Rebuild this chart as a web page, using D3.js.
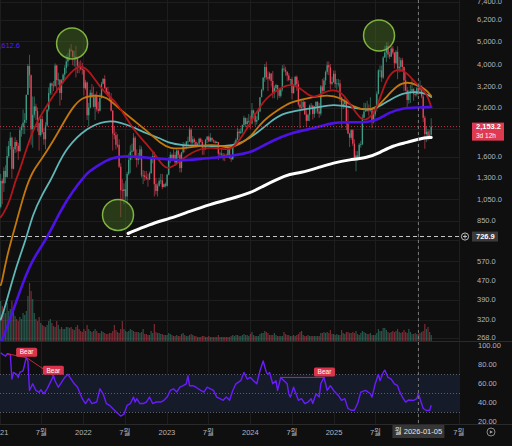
<!DOCTYPE html>
<html lang="ko">
<head>
<meta charset="UTF-8">
<title>ETH 1W</title>
<script src="https://d3js.org/d3.v7.min.js"></script>
<style>
body { margin: 0; background: #0f0f0f; }
svg { display: block; font-family: "Liberation Sans", Arial, sans-serif; }
.axis-label { fill: #b2b5be; font-size: 7.5px; }
</style>
</head>
<body>
<svg width="512" height="446"></svg>
<script>

// weekly candles, first week starts 2021-01-04, open = previous close
var firstWeek = "2021-01-04";
var firstOpen = 975;

var closes = [
  // 2021
  1260,1230,1390,1310,1610,1780,1930,1420,1720,1850,1780,1690,2080,2140,2240,2300,2950,3920,3580,2100,2420,2630,2510,2230,1980,2320,
  2040,1900,2180,2550,3000,3300,3230,3220,3940,3410,3430,3000,3400,3600,3850,4100,4290,4610,4570,4300,4300,4200,3930,3920,3800,3770,
  // 2022
  3150,3330,2410,2600,3010,2880,2620,2920,2560,2520,2860,3290,3450,3150,3040,2920,2840,2520,2010,1980,1800,1800,1450,1150,1140,1160,
  1080,1350,1550,1680,1700,1930,1580,1550,1570,1720,1330,1330,1310,1290,1280,1360,1590,1610,1220,1140,1200,1260,1265,1185,1220,1200,
  // 2023
  1340,1550,1630,1570,1630,1510,1700,1630,1430,1670,1800,1780,1860,1860,2090,1840,1900,1850,1800,1820,1910,1850,1750,1720,1890,1950,
  1860,1930,1880,1860,1830,1850,1650,1650,1630,1630,1620,1590,1730,1580,1560,1780,1780,1890,2050,2020,2050,2190,2350,2210,2270,2280,
  // 2024
  2220,2530,2460,2260,2300,2500,2880,3100,3490,3880,3510,3460,3640,3380,3010,3150,3250,3110,2920,3110,3820,3780,3710,3570,3420,3440,
  3000,3250,3520,3280,2680,2600,2610,2750,2430,2280,2420,2650,2650,2440,2630,2750,2500,2450,3200,3070,3400,3700,3950,3870,3290,3350,3630,
  // 2025
  3280,3300,3300,2880,2630,2690,2770,2220,2010,1930,2080,1820,1580,1620,1590,1800,1810,2350,2500,2530,2530,2510,2530,2250,2430,2570,
  2980,3750,3750,3500,4260,4480,4780,4390,4300,4660,4480,4030,4510,3830,3890,4150,3880,3400,3080,2800,3000,3050,3120,2970,2960,3150,
  // 2026
  3100,3200,2900,2350,2000,2050,1950,1990,2153.2
];

var highs = [
  1350,1290,1440,1470,1770,1870,2040,1950,1760,1940,1890,1830,2150,2200,2550,2460,2950,4000,4380,3600,2900,2900,2700,2600,2250,2400,
  2400,2130,2250,2550,3170,3330,3330,3380,4020,3970,3670,3120,3440,3650,3950,4370,4460,4670,4870,4370,4550,4780,4300,4100,4150,4050,
  3850,3420,3370,2720,3100,3280,3200,2980,3050,2750,2990,3350,3480,3580,3180,3190,3040,3000,2540,2150,2050,2000,1900,1500,1280,1230,
  1260,1380,1650,1790,1820,2020,1960,1720,1660,1790,1770,1400,1390,1390,1350,1380,1600,1670,1680,1300,1230,1300,1350,1350,1230,1240,
  1350,1590,1680,1650,1720,1680,1740,1710,1650,1680,1850,1830,1870,1950,2140,2120,1960,1930,1880,1840,1930,1930,1890,1760,1910,1960,
  1970,2020,1900,1900,1880,1870,1850,1680,1730,1660,1650,1650,1750,1740,1600,1800,1860,1920,2130,2100,2120,2200,2400,2300,2350,2440,
  2400,2720,2550,2460,2390,2530,2880,3130,3520,4000,4090,3720,3700,3650,3730,3230,3290,3180,3130,3120,3950,3980,3890,3700,3650,3450,
  3520,3280,3560,3570,3400,2800,2790,2820,2770,2530,2450,2680,2720,2670,2640,2770,2770,2720,3250,3450,3500,3750,4100,4100,4000,3530,3750,
  3750,3450,3450,3420,2900,2800,2850,2800,2550,2030,2100,2100,1900,1690,1690,1830,1870,2430,2730,2720,2780,2680,2880,2550,2520,2630,
  3050,3800,3940,3940,4330,4790,4950,4960,4500,4770,4770,4470,4590,4760,4290,4250,4250,3900,3650,3180,3100,3250,3440,3150,3070,3200,
  3300,3400,3250,2950,2400,2150,2100,2080,2340
];

var lows = [
  960,1000,1130,1230,1300,1580,1720,1290,1410,1660,1670,1550,1680,1950,2000,2000,2230,2950,3150,1800,1750,2350,2300,2050,1700,1950,
  2000,1800,1720,2150,2500,2940,2950,3060,3200,3000,3250,2650,2800,3300,3450,3650,3900,4150,4500,3950,3900,3500,3650,3650,3750,3600,
  2930,3100,2300,2160,2580,2850,2600,2300,2500,2450,2500,2840,3270,3120,2950,2900,2770,2500,1700,1900,1720,1750,1430,880,1030,1000,
  1040,1000,1330,1360,1550,1680,1550,1440,1480,1550,1300,1220,1260,1270,1190,1270,1350,1500,1080,1100,1080,1190,1220,1160,1180,1180,
  1190,1330,1500,1530,1550,1460,1500,1580,1370,1370,1650,1670,1720,1790,1850,1800,1790,1780,1770,1770,1790,1840,1630,1630,1720,1830,
  1850,1860,1850,1830,1820,1830,1550,1600,1610,1540,1530,1580,1580,1570,1520,1550,1770,1780,1880,1930,2000,2010,2150,2140,2150,2230,
  2100,2200,2400,2170,2200,2290,2480,2880,3050,3350,3420,3060,3400,3200,2850,2850,3070,2810,2860,2870,3050,3690,3560,3370,3370,3240,
  2820,2980,3190,3070,2630,2120,2560,2550,2420,2150,2280,2270,2570,2310,2350,2460,2440,2350,2400,3000,3020,3250,3600,3580,3110,3240,3320,
  3160,3100,3200,2750,2120,2560,2600,2080,2000,1760,1890,1780,1540,1385,1540,1570,1750,1790,2400,2500,2500,2400,2500,2120,2220,2380,
  2500,2960,3500,3350,3450,4270,4070,4260,4200,4280,4400,3820,4000,3440,3680,3700,3700,3060,3050,2620,2700,2720,3080,2780,2900,2900,
  2950,3050,2850,2250,1730,1850,1880,1900,1940
];

// volume, relative units
var volumes = [
  40,35,30,28,38,30,32,40,34,25,22,20,24,22,28,26,30,45,58,50,42,28,22,20,24,18,16,15,14,16,20,22,18,15,14,20,16,12,14,12,12,14,14,13,14,12,11,14,16,12,10,9,
  12,10,16,12,10,9,10,12,10,8,8,10,9,8,7,7,8,8,10,16,11,9,8,12,20,12,10,9,10,12,11,10,9,9,9,8,9,12,7,7,6,6,10,8,17,9,8,8,7,7,6,6,
  6,8,7,6,5,5,6,5,5,7,8,6,5,5,6,7,6,5,5,4,4,4,5,5,4,4,5,4,4,4,4,4,6,4,4,4,4,4,4,4,5,6,5,6,6,5,5,6,7,6,6,5,
  7,9,6,5,5,5,7,8,8,10,9,8,6,6,6,8,6,5,5,5,5,9,7,6,6,5,5,6,5,6,7,9,10,6,5,5,6,5,5,5,5,5,5,5,8,8,9,8,9,8,11,7,7,
  6,7,6,6,11,8,7,9,9,8,8,9,8,10,7,6,8,10,9,8,7,7,8,6,6,6,8,12,10,10,13,13,11,9,8,9,10,9,10,12,9,8,9,11,9,8,12,9,7,7,8,7,
  7,8,9,10,17,12,14,9,6
];

// moving averages: [week index, price]
var maRed = [[0,880],[1.4,905],[5.8,1030],[9,1259],[12,1391],[20,2138],[31,2800],[41,3525],[50,4055],[56,3669],[62,3190],[68,2887],
  [73,2714],[83,2075],[91,1822],[98,1584],[104,1363],[114,1584],[125,1751],[135,1751],[143,1699],[148,1822],[156,2225],[164,2800],
  [173,3098],[181,3322],[189,3098],[195,2800],[204,3098],[212,3098],[218,2714],[225,2293],[229,2293],[235,2534],[241,3525],[248,3857],
  [254,3669],[260,3256],[266,3040],[269,2611]];
var maOrange = [[0,450],[0.8,463],[4,607],[10,844],[15,1139],[20,1391],[25,1537],[33,1878],[39,2225],[45,2611],[51,2887],[60,2947],
  [66,2887],[73,2611],[83,2293],[91,2075],[100,1822],[106,1733],[114,1733],[125,1786],[135,1803],[143,1733],[150,1822],[156,1935],
  [164,2293],[173,2534],[181,2745],[187,2800],[195,2887],[204,2947],[212,2887],[220,2611],[229,2534],[235,2586],[241,2887],
  [248,3256],[254,3355],[260,3256],[266,3098],[269,2915]];
var maCyan = [[0,320],[1,333],[4,390],[10,549],[16,712],[20,905],[26,1105],[31,1259],[34,1391],[41,1751],[54,2138],[66,2293],
  [75,2248],[83,2138],[91,2014],[100,1916],[104,1840],[114,1786],[125,1786],[135,1768],[145,1786],[151,1840],[160,2014],[168,2248],
  [176,2459],[187,2540],[198,2600],[208,2690],[218,2611],[229,2534],[235,2586],[243,2800],[251,3010],[260,3040],[266,2979],[269,2887]];
var maPurple = [[0,255],[1,262],[8,353],[14,463],[20,583],[29,712],[37,932],[45,1139],[55,1391],[58,1419],[68,1584],[79,1616],
  [91,1584],[100,1568],[114,1537],[125,1568],[135,1584],[145,1616],[156,1665],[162,1751],[170,1878],[181,2014],[189,2075],[198,2138],
  [208,2248],[218,2248],[229,2248],[235,2293],[243,2484],[251,2586],[260,2600],[269,2612.6]];
var maWhite = [[79.6,749],[93,820],[106,870],[118,932],[131,1000],[143,1051],[156,1116],[164,1197],[173,1284],[181,1350],
  [187,1363],[198,1433],[208,1507],[218,1553],[229,1584],[237,1665],[245,1786],[254,1840],[262,1916],[269,1935]];

// RSI: [week index, value]
var rsi = [[0,92.5],[3,89],[4,91.6],[6,91],[7,65],[8,72],[10,70],[11,66.7],[12,72],[14,73.7],[16,87.5],[17,84],[18,53],[20,60],
  [22,53],[24,51],[25,53.7],[27,49.5],[29,54.7],[31,61.5],[33,68.5],[34,63],[36,56.4],[38,61.5],[40,66.7],[42,70],[44,65],[46,60],
  [48,56.4],[51,44.3],[53,39.2],[55,44.3],[57,39.2],[60,40.8],[62,54.7],[64,49.5],[66,39.2],[68,37.4],[70,34],[72,30.5],[75,26],
  [77,28],[79,37.4],[81,39.2],[83,46],[84,40.8],[85,44.3],[87,39.2],[89,39.2],[91,40.8],[93,46],[95,39.2],[97,40.8],[100,40.8],
  [102,42.6],[104,46],[106,53],[108,54.7],[110,51.3],[112,56.4],[114,58],[116,60],[117,68.5],[118,58],[120,58],[122,56.4],[125,53],
  [127,51.3],[129,56.4],[131,54.7],[133,53],[135,46],[137,44.3],[139,42.6],[141,46],[143,42.6],[145,53],[147,60],[150,63.3],[152,72],
  [154,65],[156,66.7],[158,63.3],[160,60],[162,73.7],[164,84],[166,72],[167,70],[168,72],[170,60],[172,63.3],[173,53],[175,66.7],
  [177,63.3],[179,60],[180,49.5],[181,46],[183,56.4],[186,42.6],[188,44.3],[190,39.2],[192,40.8],[194,44.3],[195,39.2],[197,49.5],
  [199,46],[200,60],[202,66.7],[204,53],[206,58],[208,53],[211,47.7],[213,42.6],[215,44.3],[217,34],[219,32.2],[221,32.2],[223,39.2],
  [225,51.3],[228,53],[231,49.5],[232,46],[234,60],[236,70],[237,63.3],[239,72],[240,74.4],[242,66.7],[244,65],[246,60],[248,58],
  [249,53],[251,46],[253,40.8],[255,43],[258,42.6],[260,44.3],[261,49.5],[262,44.3],[264,34],[266,31.9],[268,31.9],[269,37.4]];

// bearish divergence lines on RSI: [[week, rsi], [week, rsi]]
var bearLines = [[[4,91.6],[16.2,87.5]], [[16.2,87.5],[32.9,68.5]], [[175.2,66.7],[202.3,66.7]]];

// drawn circles on price pane: [week, price]
var circleMarks = [[44.6,4900], [73.3,900], [236.4,5300]];

// grid prices; 2,100 and 700 sit under the badges so they get no label
var priceTicks = [7400,6200,5000,4000,3200,2600,2100,1600,1300,1050,850,700,570,470,390,320,268];
var hiddenPriceLabels = [2100, 700];
var rsiTicks = [100,80,60,40,20];
var lastPrice = 2153.2;
var markedPrice = 726.9;
var crosshairDay = "2026-01-05";


var svg = d3.select("svg"),
    plotRight = 460,
    pricePaneBottom = 341,
    rsiTop = 342,
    rsiBottom = 424;

var parseDay = d3.timeParse("%Y-%m-%d");
var start = parseDay(firstWeek);
function weekDate(w) { return new Date(start.getTime() + w * 7 * 864e5); }

var x = d3.scaleTime()
    .domain([parseDay("2021-01-01"), parseDay("2026-01-01")])
    .range([0, 417.5]);
var y = d3.scaleLog().domain([258.9, 7526]).range([pricePaneBottom, 0]);
var yVol = d3.scaleLinear().domain([0, 60]).range([pricePaneBottom, pricePaneBottom - 60]);
var yRsi = d3.scaleLinear().domain([20, 80]).range([421.8, 364.8]);

var candles = closes.map(function(c, i) {
  var o = i ? closes[i - 1] : firstOpen;
  return {date: weekDate(i), o: o, c: c,
          h: Math.max(highs[i], o, c), l: Math.min(lows[i], o, c), v: volumes[i] || 0};
});

var green = "#3f9c84", red = "#e8455a";

svg.append("rect").attr("width", 512).attr("height", 446).attr("fill", "#0f0f0f");

var defs = svg.append("defs");
defs.append("clipPath").attr("id", "clipPrice")
  .append("rect").attr("x", 0).attr("y", 0).attr("width", plotRight).attr("height", pricePaneBottom);
defs.append("clipPath").attr("id", "clipRsi")
  .append("rect").attr("x", 0).attr("y", rsiTop).attr("width", plotRight).attr("height", rsiBottom - rsiTop);

// grid
var xTicks = d3.timeMonth.every(6).range(parseDay("2021-01-01"), parseDay("2026-08-01"));
var grid = svg.append("g").attr("stroke", "#1e1e1e").attr("stroke-width", 1);
grid.selectAll(".gx").data(xTicks).enter().append("line")
    .attr("x1", function(d) { return Math.round(x(d)) + 0.5; })
    .attr("x2", function(d) { return Math.round(x(d)) + 0.5; })
    .attr("y1", 0).attr("y2", rsiBottom);
grid.selectAll(".gy").data(priceTicks).enter().append("line")
    .attr("x1", 0).attr("x2", plotRight)
    .attr("y1", function(d) { return Math.round(y(d)) + 0.5; })
    .attr("y2", function(d) { return Math.round(y(d)) + 0.5; });

// pane separators
svg.append("line").attr("x1", 0).attr("x2", 512).attr("y1", pricePaneBottom + 0.5).attr("y2", pricePaneBottom + 0.5)
    .attr("stroke", "#2a2a2a");
svg.append("line").attr("x1", 0).attr("x2", 512).attr("y1", rsiBottom + 0.5).attr("y2", rsiBottom + 0.5)
    .attr("stroke", "#2a2a2a");

// price pane
var price = svg.append("g").attr("clip-path", "url(#clipPrice)");

price.selectAll(".vol").data(candles).enter().append("rect")
    .attr("x", function(d) { return x(d.date) - 0.6; })
    .attr("width", 1.2)
    .attr("y", function(d) { return yVol(d.v); })
    .attr("height", function(d) { return pricePaneBottom - yVol(d.v); })
    .attr("fill", function(d) { return d.c >= d.o ? green : red; })
    .attr("opacity", 0.5);

price.selectAll(".wick").data(candles).enter().append("line")
    .attr("x1", function(d) { return x(d.date); })
    .attr("x2", function(d) { return x(d.date); })
    .attr("y1", function(d) { return y(d.h); })
    .attr("y2", function(d) { return y(d.l); })
    .attr("stroke", function(d) { return d.c >= d.o ? green : red; })
    .attr("stroke-width", 0.6);

price.selectAll(".body").data(candles).enter().append("rect")
    .attr("x", function(d) { return x(d.date) - 0.65; })
    .attr("width", 1.3)
    .attr("y", function(d) { return y(Math.max(d.o, d.c)); })
    .attr("height", function(d) { return Math.max(0.8, Math.abs(y(d.o) - y(d.c))); })
    .attr("fill", function(d) { return d.c >= d.o ? green : red; });

var maLine = d3.line()
    .x(function(d) { return x(weekDate(d[0])); })
    .y(function(d) { return y(d[1]); })
    .curve(d3.curveBasis);

[[maCyan, "#5fb7b7", 1.8], [maOrange, "#c4780c", 1.8], [maRed, "#b3171c", 1.8],
 [maPurple, "#4c12e6", 2.6], [maWhite, "#ffffff", 3]].forEach(function(m) {
  price.append("path").datum(m[0])
      .attr("d", maLine)
      .attr("fill", "none")
      .attr("stroke", m[1])
      .attr("stroke-width", m[2])
      .attr("stroke-linecap", "round");
});

price.selectAll(".mark").data(circleMarks).enter().append("circle")
    .attr("cx", function(d) { return x(weekDate(d[0])); })
    .attr("cy", function(d) { return y(d[1]); })
    .attr("r", 15.5)
    .attr("fill", "rgba(70,110,35,0.45)")
    .attr("stroke", "#7fb33f")
    .attr("stroke-width", 1.5);

// last price line
price.append("line")
    .attr("x1", 0).attr("x2", plotRight)
    .attr("y1", y(lastPrice)).attr("y2", y(lastPrice))
    .attr("stroke", red).attr("stroke-width", 0.8).attr("stroke-dasharray", "1,2");

// marked horizontal line
svg.append("line")
    .attr("x1", 0).attr("x2", plotRight)
    .attr("y1", y(markedPrice)).attr("y2", y(markedPrice))
    .attr("stroke", "#c8c8c8").attr("stroke-width", 1).attr("stroke-dasharray", "4,3");

svg.append("text")
    .attr("x", 20).attr("y", 48)
    .attr("text-anchor", "end")
    .attr("fill", "#5a1cff")
    .attr("font-size", "7.5px")
    .text("2,612.6");

// RSI pane
var rsiG = svg.append("g").attr("clip-path", "url(#clipRsi)");
rsiG.append("rect")
    .attr("x", 0).attr("width", plotRight)
    .attr("y", yRsi(70)).attr("height", yRsi(30) - yRsi(70))
    .attr("fill", "#161b29");
rsiG.selectAll(".lvl").data([70, 50, 30]).enter().append("line")
    .attr("x1", 0).attr("x2", plotRight)
    .attr("y1", function(d) { return Math.round(yRsi(d)) + 0.5; })
    .attr("y2", function(d) { return Math.round(yRsi(d)) + 0.5; })
    .attr("stroke", "#5a5e66").attr("stroke-dasharray", "1,2");

rsiG.append("path").datum(rsi)
    .attr("d", d3.line()
      .x(function(d) { return x(weekDate(d[0])); })
      .y(function(d) { return yRsi(d[1]); }))
    .attr("fill", "none")
    .attr("stroke", "#6a1cff")
    .attr("stroke-width", 1.4)
    .attr("stroke-linejoin", "round");

rsiG.selectAll(".bear").data(bearLines).enter().append("line")
    .attr("x1", function(d) { return x(weekDate(d[0][0])); })
    .attr("y1", function(d) { return yRsi(d[0][1]); })
    .attr("x2", function(d) { return x(weekDate(d[1][0])); })
    .attr("y2", function(d) { return yRsi(d[1][1]); })
    .attr("stroke", "#c9243d").attr("stroke-width", 1);

var bearTag = rsiG.selectAll(".bearTag").data(bearLines).enter().append("g")
    .attr("transform", function(d) {
      return "translate(" + x(weekDate(d[1][0])) + "," + (yRsi(d[1][1]) - 5.5) + ")";
    });
bearTag.append("rect")
    .attr("x", -10.5).attr("y", -4.5).attr("width", 21).attr("height", 9).attr("rx", 1.5)
    .attr("fill", "#d9344c");
bearTag.append("text")
    .attr("text-anchor", "middle").attr("dy", "0.35em")
    .attr("fill", "#fff").attr("font-size", "6.5px")
    .text("Bear");

// crosshair
var cx = x(parseDay(crosshairDay));
svg.append("line")
    .attr("x1", cx).attr("x2", cx).attr("y1", 0).attr("y2", rsiBottom)
    .attr("stroke", "#7a7a7a").attr("stroke-width", 1).attr("stroke-dasharray", "3,3");

// price axis labels
svg.selectAll(".plabel")
    .data(priceTicks.filter(function(d) { return hiddenPriceLabels.indexOf(d) < 0; }))
    .enter().append("text")
    .attr("class", "axis-label")
    .attr("x", 477).attr("y", function(d) { return y(d); })
    .attr("dy", "0.35em")
    .text(d3.format(",.1f"));

svg.selectAll(".rlabel").data(rsiTicks).enter().append("text")
    .attr("class", "axis-label")
    .attr("x", 478).attr("y", function(d) { return yRsi(d); })
    .attr("dy", "0.35em")
    .text(d3.format(".2f"));

// last price badge
var badge = svg.append("g").attr("transform", "translate(472," + y(lastPrice) + ")");
badge.append("rect").attr("x", 0).attr("y", -4).attr("width", 32).attr("height", 18).attr("fill", "#e03a52");
badge.append("text").attr("x", 4).attr("y", 0).attr("dy", "0.35em")
    .attr("fill", "#fff").attr("font-size", "7.5px").attr("font-weight", "bold")
    .text(d3.format(",.1f")(lastPrice));
badge.append("text").attr("x", 4).attr("y", 9).attr("dy", "0.35em")
    .attr("fill", "#fff").attr("font-size", "6.5px")
    .text("3d 12h");

// marked price badge
var mBadge = svg.append("g").attr("transform", "translate(0," + y(markedPrice) + ")");
mBadge.append("circle").attr("cx", 465).attr("cy", 0).attr("r", 3.6)
    .attr("fill", "#0f0f0f").attr("stroke", "#d0d0d0").attr("stroke-width", 0.9);
mBadge.append("path").attr("d", "M463,0H467M465,-2V2").attr("stroke", "#d0d0d0").attr("stroke-width", 0.9);
mBadge.append("rect").attr("x", 472).attr("y", -5).attr("width", 26).attr("height", 10).attr("fill", "#3a3a3a");
mBadge.append("text").attr("x", 476).attr("y", 0).attr("dy", "0.35em")
    .attr("fill", "#fff").attr("font-size", "7.5px").attr("font-weight", "bold")
    .text(d3.format(".1f")(markedPrice));

// time axis; the crosshair date box takes the place of the 2026 label
svg.selectAll(".tlabel")
    .data(xTicks.filter(function(d) { return Math.abs(x(d) - x(parseDay(crosshairDay))) > 20; }))
    .enter().append("text")
    .attr("class", "axis-label")
    .attr("x", function(d) { return x(d); })
    .attr("y", 432).attr("dy", "0.35em")
    .attr("text-anchor", "middle")
    .style("font-family", "'Liberation Sans', 'Noto Sans CJK KR', sans-serif")
    .text(function(d) { return d.getMonth() === 0 ? d.getFullYear() : "7월"; });

svg.append("rect").attr("x", cx - 26).attr("y", 425).attr("width", 52).attr("height", 13).attr("fill", "#363636");
svg.append("text")
    .attr("x", cx).attr("y", 431.5).attr("dy", "0.35em")
    .attr("text-anchor", "middle")
    .attr("fill", "#e6e6e6").attr("font-size", "7.5px")
    .style("font-family", "'Liberation Sans', 'Noto Sans CJK KR', sans-serif")
    .text("월 " + crosshairDay);

// replay icon
svg.append("circle").attr("cx", 491).attr("cy", 432).attr("r", 4)
    .attr("fill", "none").attr("stroke", "#9a9a9a").attr("stroke-width", 0.9);
svg.append("path").attr("d", "M489.8,430.2L493,432L489.8,433.8Z").attr("fill", "#9a9a9a");

</script>
</body>
</html>
